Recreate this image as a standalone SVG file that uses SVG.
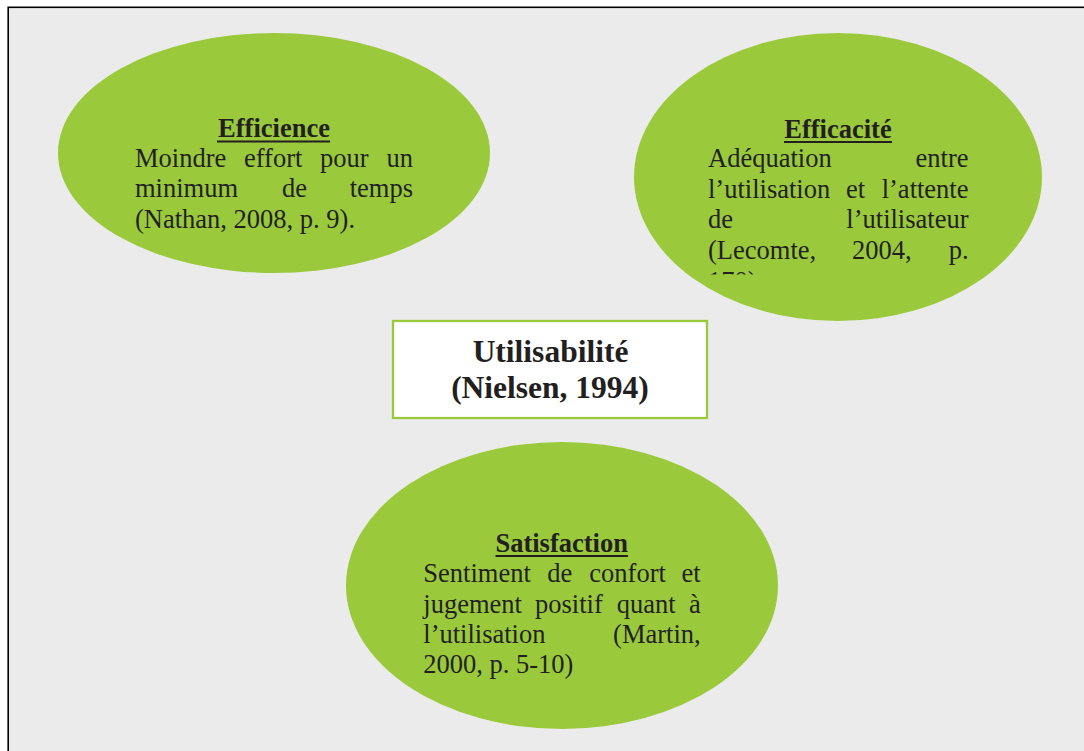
<svg xmlns="http://www.w3.org/2000/svg" width="1084" height="751" viewBox="0 0 1084 751">
<style>
.bub{fill:#9aca3c;stroke:none}
.t{font-family:"Liberation Serif","Times New Roman",serif;font-size:26.5px;fill:#231f20}
.h{font-family:"Liberation Serif","Times New Roman",serif;font-size:26.5px;font-weight:bold;fill:#231f20;text-anchor:middle}
.c{font-family:"Liberation Serif","Times New Roman",serif;font-size:31.5px;font-weight:bold;fill:#231f20;text-anchor:middle}
.e{text-anchor:end}
.ul{stroke:#231f20;stroke-width:2}
</style>
<defs>
<clipPath id="clipEff"><rect x="600" y="0" width="484" height="274.5"/></clipPath>
</defs>
<rect x="0" y="0" width="1084" height="751" fill="#ffffff"/>
<rect x="8.2" y="7.3" width="1090" height="760" fill="#ebebeb" stroke="#000000" stroke-width="1.6"/>
<g id="connectors"></g>
<g id="efficience">
<ellipse class="bub" cx="274" cy="153" rx="216" ry="120"/>
<text class="h" x="274" y="137">Efficience</text>
<line class="ul" x1="217" y1="141.5" x2="330" y2="141.5"/>
<text class="t" y="167"><tspan x="135">Moindre</tspan><tspan x="244">effort</tspan><tspan x="320">pour</tspan><tspan x="413" class="e" text-anchor="end">un</tspan></text>
<text class="t" y="197"><tspan x="135">minimum</tspan><tspan x="282">de</tspan><tspan x="413" text-anchor="end">temps</tspan></text>
<text class="t" x="135" y="228">(Nathan, 2008, p. 9).</text>
</g>
<g id="efficacite">
<ellipse class="bub" cx="838" cy="177" rx="204" ry="144"/>
<text class="h" x="838" y="138">Efficacité</text>
<line class="ul" x1="784" y1="142" x2="892" y2="142"/>
<text class="t" y="166.7"><tspan x="708">Adéquation</tspan><tspan x="968.5" text-anchor="end">entre</tspan></text>
<text class="t" y="197.5"><tspan x="708">l’utilisation</tspan><tspan x="846">et</tspan><tspan x="968.5" text-anchor="end">l’attente</tspan></text>
<text class="t" y="228"><tspan x="708">de</tspan><tspan x="968.5" text-anchor="end">l’utilisateur</tspan></text>
<text class="t" y="259"><tspan x="708">(Lecomte,</tspan><tspan x="852">2004,</tspan><tspan x="968.5" text-anchor="end">p.</tspan></text>
<text class="t" x="708" y="289.8" clip-path="url(#clipEff)">170).</text>
</g>
<g id="utilisabilite">
<rect x="393" y="321" width="314" height="97" fill="#ffffff" stroke="#9aca3c" stroke-width="2.3"/>
<text class="c" x="550.5" y="362.3">Utilisabilité</text>
<text class="c" x="550" y="398.3">(Nielsen, 1994)</text>
</g>
<g id="satisfaction">
<ellipse class="bub" cx="562" cy="585.5" rx="216" ry="143.5"/>
<text class="h" x="561.7" y="551.7">Satisfaction</text>
<line class="ul" x1="495.5" y1="556" x2="628" y2="556"/>
<text class="t" y="581.7"><tspan x="423.3">Sentiment</tspan><tspan x="547.3">de</tspan><tspan x="589.3">confort</tspan><tspan x="700.7" text-anchor="end">et</tspan></text>
<text class="t" y="612.7"><tspan x="423.3">jugement</tspan><tspan x="535">positif</tspan><tspan x="616.7">quant</tspan><tspan x="700.7" text-anchor="end">à</tspan></text>
<text class="t" y="642.7"><tspan x="423.3">l’utilisation</tspan><tspan x="700.7" text-anchor="end">(Martin,</tspan></text>
<text class="t" x="423.3" y="673.3">2000, p. 5-10)</text>
</g>
</svg>
